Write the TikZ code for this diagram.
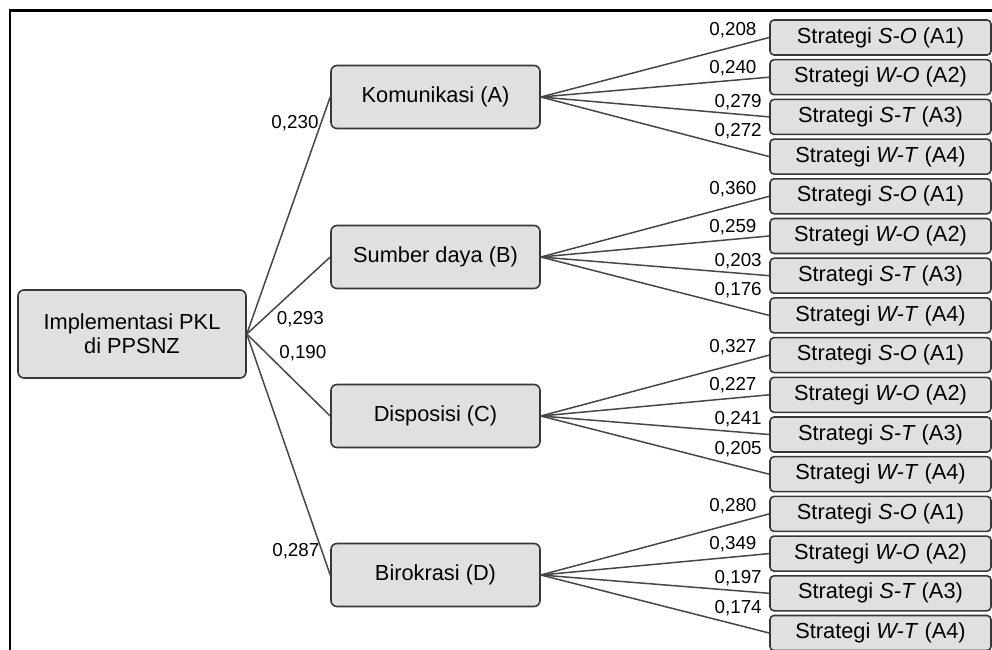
\documentclass[tikz,border=0pt]{standalone}
\usepackage{fontspec}
\setmainfont{Liberation Sans}

\definecolor{boxfill}{RGB}{224,224,224}
\definecolor{boxline}{RGB}{55,55,55}
\definecolor{wiregray}{RGB}{70,70,70}

\tikzset{
  goal/.style={draw=boxline, fill=boxfill, line width=0.9pt, rounded corners=0.12cm,
    minimum width=4.56cm, minimum height=1.76cm, align=center,
    font=\fontsize{12.4}{13.7}\selectfont},
  crit/.style={draw=boxline, fill=boxfill, line width=0.9pt, rounded corners=0.12cm,
    minimum width=4.18cm, minimum height=1.26cm,
    font=\fontsize{12.4}{13.7}\selectfont},
  alt/.style={draw=boxline, fill=boxfill, line width=0.9pt, rounded corners=0.08cm,
    minimum width=4.42cm, minimum height=0.70cm, inner sep=0pt,
    font=\fontsize{12.4}{13.7}\selectfont},
  wire/.style={draw=wiregray, line width=0.85pt},
  wt/.style={font=\fontsize{10.7}{12}\selectfont, inner sep=1pt},
  wup/.style={wt, pos=0.955, above left},
  wdn/.style={wt, pos=0.75, above right}
}

\begin{document}
\begin{tikzpicture}
          \useasboundingbox (0,0) rectangle (19.84,12.98);
          % frame
          \draw[line width=0.06cm] (0.2,-0.1) -- (0.2,12.76) -- (19.94,12.76);
          % goal and four criteria
          \node[goal] (root) at (2.64,6.30) {Implementasi PKL\\di PPSNZ};
          \node[crit] (kom) at (8.71,11.04) {Komunikasi (A)};
          \node[crit] (sdm) at (8.71,7.84) {Sumber daya (B)};
          \node[crit] (dis) at (8.71,4.66) {Disposisi (C)};
          \node[crit] (bir) at (8.71,1.48) {Birokrasi (D)};
          % sixteen strategies
          \node[alt] (kom1) at (17.61,12.230) {Strategi \textit{S-O} (A1)};
          \node[alt] (kom2) at (17.61,11.436) {Strategi \textit{W-O} (A2)};
          \node[alt] (kom3) at (17.61,10.642) {Strategi \textit{S-T} (A3)};
          \node[alt] (kom4) at (17.61,9.848) {Strategi \textit{W-T} (A4)};
          \node[alt] (sdm1) at (17.61,9.054) {Strategi \textit{S-O} (A1)};
          \node[alt] (sdm2) at (17.61,8.260) {Strategi \textit{W-O} (A2)};
          \node[alt] (sdm3) at (17.61,7.466) {Strategi \textit{S-T} (A3)};
          \node[alt] (sdm4) at (17.61,6.672) {Strategi \textit{W-T} (A4)};
          \node[alt] (dis1) at (17.61,5.878) {Strategi \textit{S-O} (A1)};
          \node[alt] (dis2) at (17.61,5.084) {Strategi \textit{W-O} (A2)};
          \node[alt] (dis3) at (17.61,4.290) {Strategi \textit{S-T} (A3)};
          \node[alt] (dis4) at (17.61,3.496) {Strategi \textit{W-T} (A4)};
          \node[alt] (bir1) at (17.61,2.702) {Strategi \textit{S-O} (A1)};
          \node[alt] (bir2) at (17.61,1.908) {Strategi \textit{W-O} (A2)};
          \node[alt] (bir3) at (17.61,1.114) {Strategi \textit{S-T} (A3)};
          \node[alt] (bir4) at (17.61,0.320) {Strategi \textit{W-T} (A4)};
          % weights of the criteria
          \draw[wire] (root.east) -- (kom.west) node[wt, pos=0.89, left] {0,230};
          \draw[wire] (root.east) -- (sdm.west) node[wt, pos=0.33, below right] {0,293};
          \draw[wire] (root.east) -- (dis.west) node[wt, pos=0.36, above right] {0,190};
          \draw[wire] (root.east) -- (bir.west) node[wt, pos=0.9, left] {0,287};
          % and weights of the strategies
          \draw[wire] (kom.east) -- (kom1.west) node[wup] {0,208};
          \draw[wire] (kom.east) -- (kom2.west) node[wup] {0,240};
          \draw[wire] (kom.east) -- (kom3.west) node[wdn] {0,279};
          \draw[wire] (kom.east) -- (kom4.west) node[wdn] {0,272};
          \draw[wire] (sdm.east) -- (sdm1.west) node[wup] {0,360};
          \draw[wire] (sdm.east) -- (sdm2.west) node[wup] {0,259};
          \draw[wire] (sdm.east) -- (sdm3.west) node[wdn] {0,203};
          \draw[wire] (sdm.east) -- (sdm4.west) node[wdn] {0,176};
          \draw[wire] (dis.east) -- (dis1.west) node[wup] {0,327};
          \draw[wire] (dis.east) -- (dis2.west) node[wup] {0,227};
          \draw[wire] (dis.east) -- (dis3.west) node[wdn] {0,241};
          \draw[wire] (dis.east) -- (dis4.west) node[wdn] {0,205};
          \draw[wire] (bir.east) -- (bir1.west) node[wup] {0,280};
          \draw[wire] (bir.east) -- (bir2.west) node[wup] {0,349};
          \draw[wire] (bir.east) -- (bir3.west) node[wdn] {0,197};
          \draw[wire] (bir.east) -- (bir4.west) node[wdn] {0,174};
        \end{tikzpicture}
\end{document}
